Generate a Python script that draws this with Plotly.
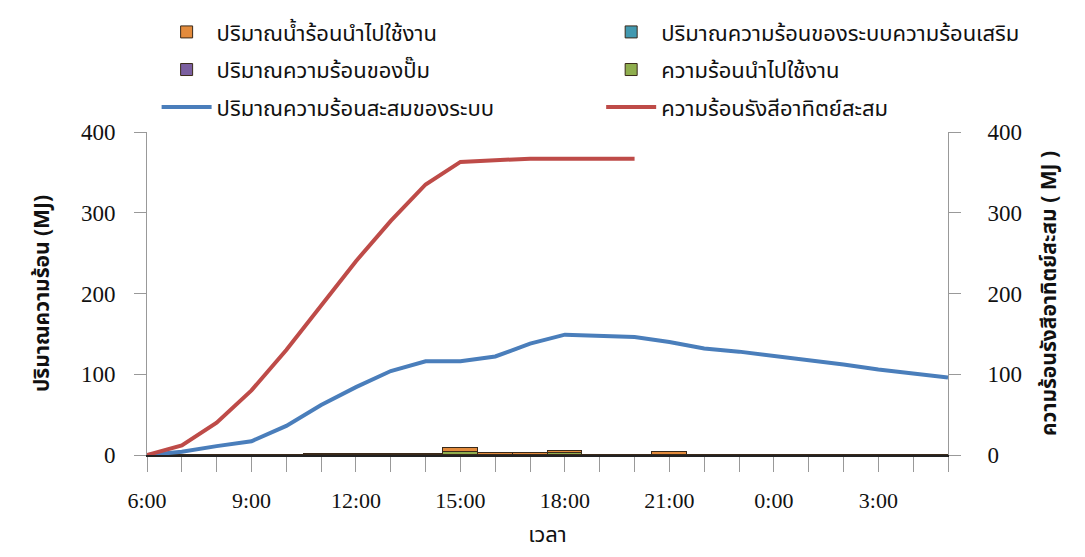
import plotly.graph_objects as go

times = ["6:00", "7:00", "8:00", "9:00", "10:00", "11:00", "12:00", "13:00", "14:00",
         "15:00", "16:00", "17:00", "18:00", "19:00", "20:00", "21:00", "22:00", "23:00",
         "0:00", "1:00", "2:00", "3:00", "4:00", "5:00"]
tick_labels = [t if i % 3 == 0 else "" for i, t in enumerate(times)]

hot_water_used = [0, 0, 0, 0, 0, 0, 0, 0, 0, 5, 3, 3, 3, 0, 0, 3.5, 0, 0, 0, 0, 0, 0, 0, 0]
aux_heat = [0] * 24
pump_heat = [0, 0, 0, 0, 0, 1, 1, 1, 1, 0, 0, 0, 0, 0, 0, 0, 0, 0, 0, 0, 0, 0, 0, 0]
heat_used = [0, 0, 0, 0, 0, 0, 0, 0, 0, 3.5, 0, 0, 2.5, 0, 0, 0, 0, 0, 0, 0, 0, 0, 0, 0]
stored_heat = [0, 4, 11, 17, 36, 62, 84, 104, 116, 116, 122, 138, 149, 148, 146, 140,
               132, 128, 123, 117, 112, 106, 101, 96]
solar_cum = [0, 12, 40, 80, 130, 185, 240, 290, 335, 363, 365, 367, 367, 367, 367]

names = ["ปริมาณน้ำร้อนนำไปใช้งาน", "ปริมาณความร้อนของระบบความร้อนเสริม",
         "ปริมาณความร้อนของปั๊ม", "ความร้อนนำไปใช้งาน",
         "ปริมาณความร้อนสะสมของระบบ", "ความร้อนรังสีอาทิตย์สะสม"]

thai = "Noto Sans Thai, Tahoma, Noto Sans, sans-serif"
serif = "Liberation Serif, Times New Roman, serif"
txt = "#111111"

fig = go.Figure()
bar_line = dict(color="#3a2a1a", width=1)
fig.add_trace(go.Bar(x=times, y=heat_used, name=names[3], legendgroup="g4", legend="legend2", legendrank=2,
                     marker=dict(color="#8FAE4E", line=bar_line)))
fig.add_trace(go.Bar(x=times, y=pump_heat, name=names[2], legendgroup="g3", legend="legend", legendrank=2,
                     marker=dict(color="#7B5FA0", line=bar_line)))
fig.add_trace(go.Bar(x=times, y=aux_heat, name=names[1], legendgroup="g2", legend="legend2", legendrank=1,
                     marker=dict(color="#4299B0", line=bar_line)))
fig.add_trace(go.Bar(x=times, y=hot_water_used, name=names[0], legendgroup="g1", legend="legend", legendrank=1,
                     marker=dict(color="#E38B3C", line=bar_line)))
fig.add_trace(go.Scatter(x=times, y=stored_heat, name=names[4], mode="lines", legendgroup="g5",
                         legend="legend", legendrank=3, line=dict(color="#4A7EBB", width=4)))
fig.add_trace(go.Scatter(x=times[:len(solar_cum)], y=solar_cum, name=names[5], mode="lines",
                         legendgroup="g6", legend="legend2", legendrank=3,
                         line=dict(color="#BE4B48", width=4), yaxis="y2"))

leg_common = dict(orientation="v", yanchor="top", xanchor="left", traceorder="grouped",
                  tracegroupgap=6, bgcolor="rgba(0,0,0,0)",
                  font=dict(family=thai, size=22, color=txt), itemwidth=50)

fig.update_layout(
    width=1085, height=557,
    margin=dict(l=147, r=137, t=131, b=102),
    plot_bgcolor="white", paper_bgcolor="white",
    barmode="stack", bargap=0,
    showlegend=True,
    legend=dict(x=0.012, y=1.37, **leg_common),
    legend2=dict(x=0.567, y=1.37, **leg_common),
    xaxis=dict(type="category", range=[0, 23], tickmode="array", tickvals=times,
               ticktext=tick_labels, ticks="outside", ticklen=15, tickcolor="#999999",
               ticklabelstandoff=10,
               showline=True, linecolor="#222222", linewidth=1.5, showgrid=False,
               tickfont=dict(family=serif, size=22, color=txt),
               title=dict(text="เวลา", font=dict(family=thai, size=22, color=txt), standoff=14)),
    yaxis=dict(range=[0, 400], tickvals=[0, 100, 200, 300, 400], ticks="outside", ticklen=12,
               tickcolor="#999999", showline=True, linecolor="#999999", showgrid=False,
               ticklabelstandoff=14,
               zeroline=False, tickfont=dict(family=serif, size=23, color=txt),
               title=dict(text="<b>ปริมาณความร้อน (MJ)</b>", font=dict(family=thai, size=21, color=txt), standoff=25)),
    yaxis2=dict(range=[0, 400], tickvals=[0, 100, 200, 300, 400], overlaying="y", side="right",
                ticks="outside", ticklen=12, tickcolor="#999999", showline=True, linecolor="#999999",
                ticklabelstandoff=22,
                showgrid=False, zeroline=False, tickfont=dict(family=serif, size=23, color=txt),
                title=dict(text="<b>ความร้อนรังสีอาทิตย์สะสม ( MJ )</b>", font=dict(family=thai, size=21, color=txt), standoff=20)),
)

fig.write_html("out.html")
